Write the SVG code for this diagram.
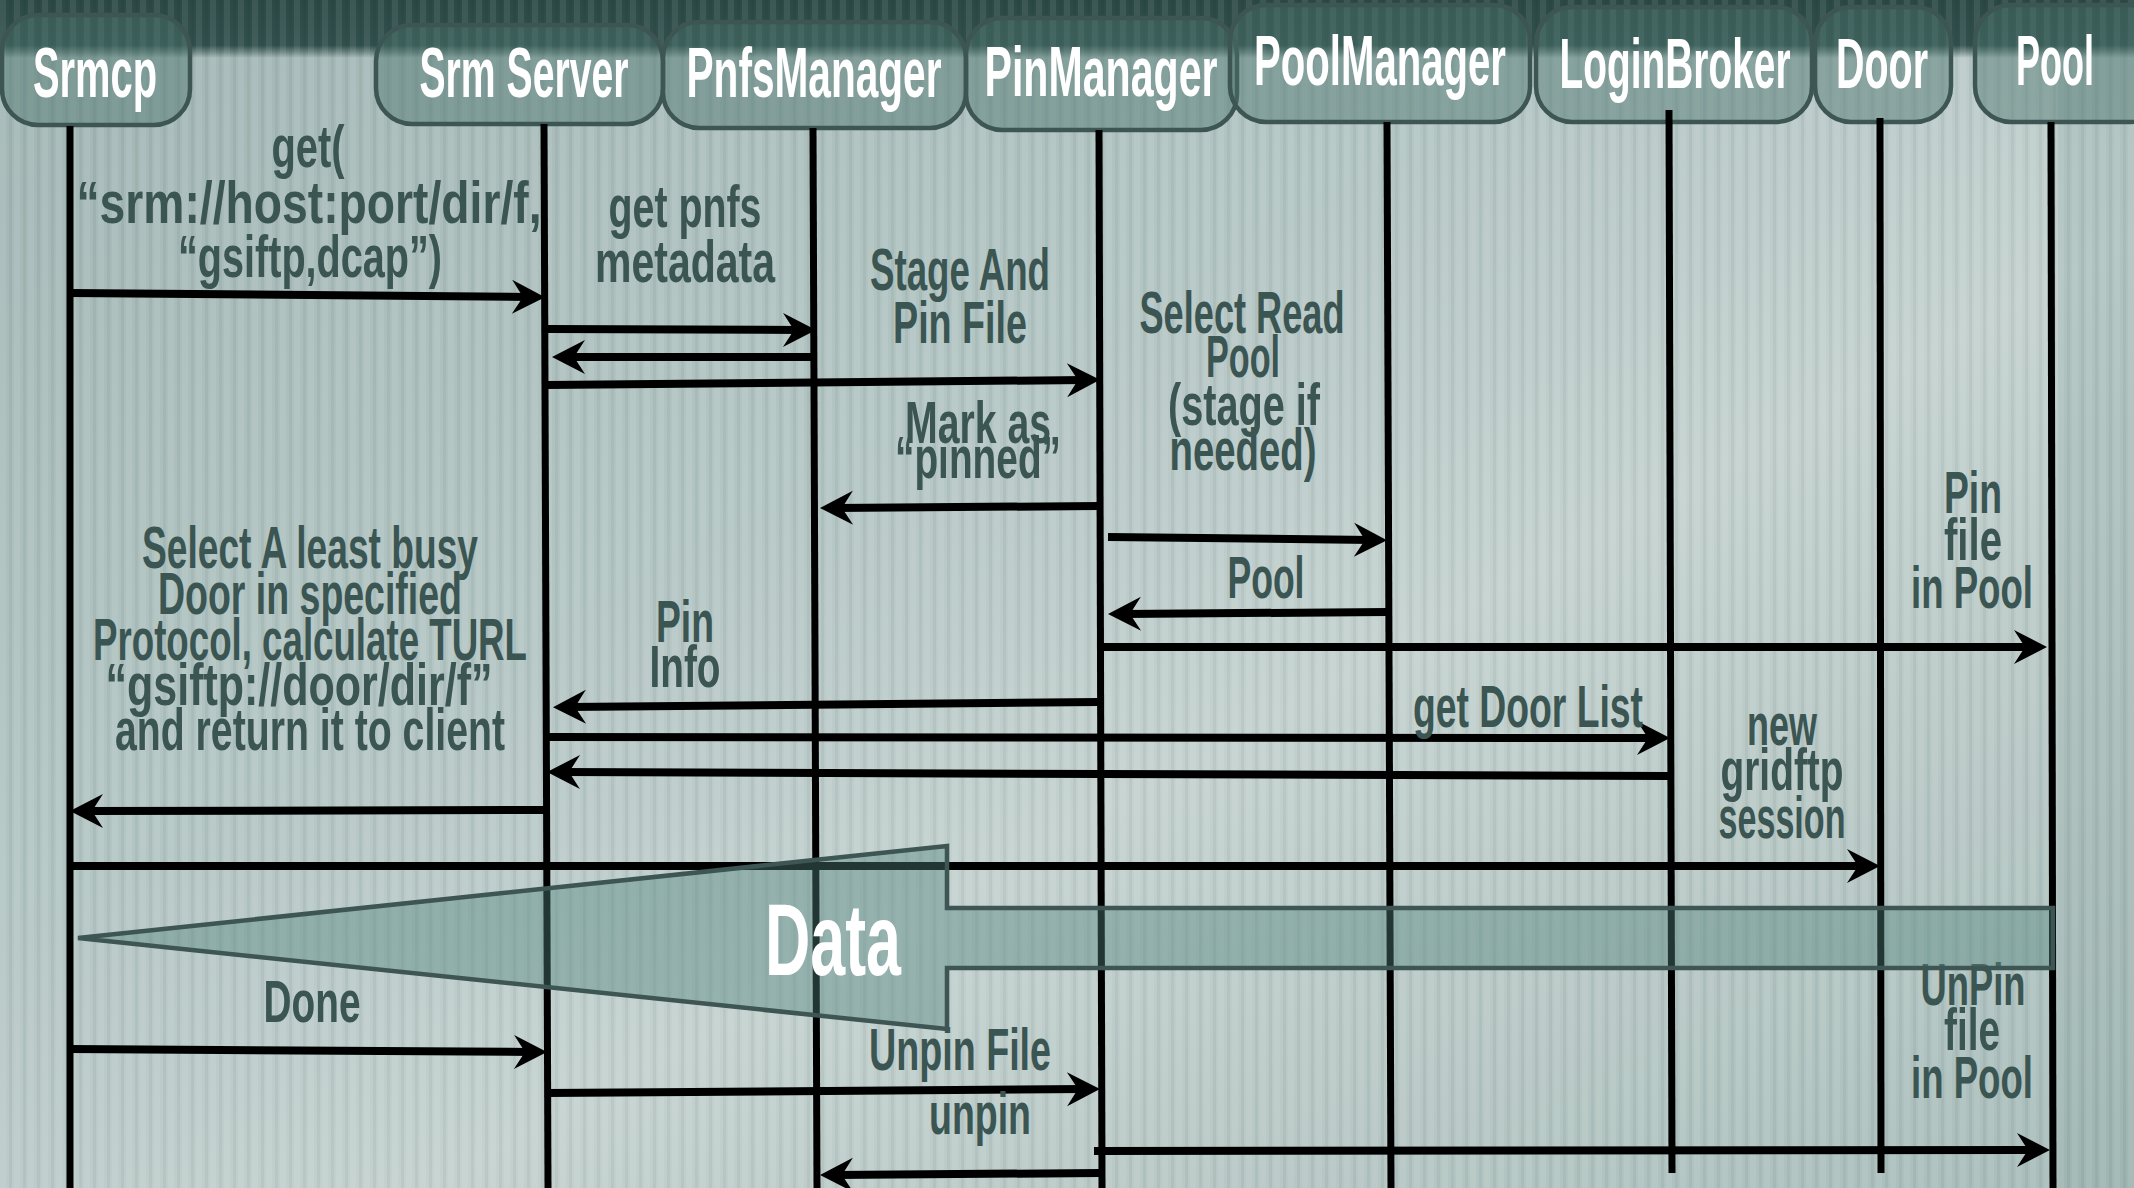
<svg xmlns="http://www.w3.org/2000/svg" width="2134" height="1188" viewBox="0 0 2134 1188">
  <style>
    .lbl{font-family:"Liberation Sans",Arial,sans-serif;font-weight:bold;font-size:60px;fill:#3b5552;text-anchor:middle}
    .nlbl{font-family:"Liberation Sans",Arial,sans-serif;font-weight:bold;font-size:70px;fill:#ffffff;text-anchor:middle}
    .big{font-family:"Liberation Sans",Arial,sans-serif;font-weight:bold;font-size:102px;fill:#ffffff;text-anchor:middle}
    .box{fill:#4b736d;fill-opacity:0.45;stroke:#3d5553;stroke-width:4.5}
    .life{stroke:#000;stroke-width:7;fill:none}
    .msg{stroke:#000;stroke-width:8;fill:none;marker-end:url(#ah)}
  </style>
  <defs>
    <linearGradient id="bg" x1="0" y1="0" x2="1" y2="1">
      <stop offset="0" stop-color="#a0b5b3"/>
      <stop offset="0.4" stop-color="#b4c6c4"/>
      <stop offset="0.6" stop-color="#c3d1cf"/>
      <stop offset="0.8" stop-color="#b6c7c4"/>
      <stop offset="1" stop-color="#a7bcb9"/>
    </linearGradient>
    <linearGradient id="hdr" x1="0" y1="0" x2="0" y2="1">
      <stop offset="0" stop-color="#2c4946"/>
      <stop offset="0.78" stop-color="#31504d"/>
      <stop offset="0.9" stop-color="#31504d" stop-opacity="0.5"/>
      <stop offset="1" stop-color="#31504d" stop-opacity="0"/>
    </linearGradient>
    <pattern id="stripes" width="14" height="20" patternUnits="userSpaceOnUse">
      <rect x="0" y="0" width="6" height="20" fill="#ffffff" fill-opacity="0.08"/>
      <rect x="9" y="0" width="3" height="20" fill="#000000" fill-opacity="0.045"/>
    </pattern>
    <marker id="ah" markerUnits="userSpaceOnUse" viewBox="-20 -18 36 36" markerWidth="36" markerHeight="36" refX="0" refY="0" orient="auto">
      <path d="M15,0 L-18,-17 L-7,0 L-18,17 Z" fill="#000"/>
    </marker>
  </defs>

  <!-- backdrop: tinted panel, dark title band, vertical ribbing -->
  <rect width="2134" height="1188" fill="url(#bg)"/>
  <rect x="2058" width="76" height="1188" fill="#8fa9a5" fill-opacity="0.35"/>
  <rect width="2134" height="58" fill="url(#hdr)"/>
  <rect width="2134" height="1188" fill="url(#stripes)"/>

  <!-- participants -->
  <g id="srmcp">
    <rect class="box" x="2" y="15" width="188" height="110" rx="36"/>
    <text class="nlbl" x="95" y="97" textLength="124" lengthAdjust="spacingAndGlyphs">Srmcp</text>
  </g>
  <g id="srm-server">
    <rect class="box" x="376" y="25" width="287" height="99" rx="36"/>
    <text class="nlbl" x="524" y="97" textLength="209" lengthAdjust="spacingAndGlyphs">Srm Server</text>
  </g>
  <g id="pnfs-manager">
    <rect class="box" x="663" y="22" width="303" height="106" rx="36"/>
    <text class="nlbl" x="814" y="97" textLength="255" lengthAdjust="spacingAndGlyphs">PnfsManager</text>
  </g>
  <g id="pin-manager">
    <rect class="box" x="966" y="18" width="271" height="112" rx="36"/>
    <text class="nlbl" x="1101" y="96" textLength="233" lengthAdjust="spacingAndGlyphs">PinManager</text>
  </g>
  <g id="pool-manager">
    <rect class="box" x="1230" y="5" width="300" height="117" rx="36"/>
    <text class="nlbl" x="1380" y="85" textLength="252" lengthAdjust="spacingAndGlyphs">PoolManager</text>
  </g>
  <g id="login-broker">
    <rect class="box" x="1536" y="7" width="276" height="115" rx="36"/>
    <text class="nlbl" x="1675" y="88" textLength="231" lengthAdjust="spacingAndGlyphs">LoginBroker</text>
  </g>
  <g id="door">
    <rect class="box" x="1815" y="7" width="136" height="115" rx="36"/>
    <text class="nlbl" x="1882" y="88" textLength="92" lengthAdjust="spacingAndGlyphs">Door</text>
  </g>
  <g id="pool">
    <rect class="box" x="1975" y="5" width="190" height="117" rx="36"/>
    <text class="nlbl" x="2055" y="85" textLength="78" lengthAdjust="spacingAndGlyphs">Pool</text>
  </g>

  <!-- lifelines and messages -->
  <g id="connectors">
    <path class="life" d="M70,126 L70,1188"/>
    <path class="life" d="M544,124 L548,1188"/>
    <path class="life" d="M813,128 L817,1188"/>
    <path class="life" d="M1099,130 L1102,1188"/>
    <path class="life" d="M1387,122 L1391,1188"/>
    <path class="life" d="M1669,110 L1672,1173"/>
    <path class="life" d="M1880,118 L1881,1173"/>
    <path class="life" d="M2051,122 L2053,1188"/>

    <path class="msg" d="M70,293 L530,297"/>
    <path class="msg" d="M547,329 L801,330"/>
    <path class="msg" d="M814,357 L567,357"/>
    <path class="msg" d="M547,385 L1085,380"/>
    <path class="msg" d="M1099,506 L835,508"/>
    <path class="msg" d="M1108,537 L1372,540"/>
    <path class="msg" d="M1387,612 L1123,614"/>
    <path class="msg" d="M1100,647 L2032,647"/>
    <path class="msg" d="M1099,702 L568,707"/>
    <path class="msg" d="M547,737 L1655,738"/>
    <path class="msg" d="M1669,776 L562,772"/>
    <path class="msg" d="M547,810 L85,811"/>
    <path class="msg" d="M70,866 L1865,866"/>
    <path class="msg" d="M70,1049 L532,1052"/>
    <path class="msg" d="M547,1093 L1085,1089"/>
    <path class="msg" d="M1094,1151 L2035,1150"/>
    <path class="msg" d="M1100,1173 L835,1175"/>
  </g>

  <!-- message labels -->
  <g id="labels">
    <text class="lbl" x="308" y="167" textLength="73" lengthAdjust="spacingAndGlyphs">get(</text>
    <text class="lbl" x="309" y="223" textLength="465" lengthAdjust="spacingAndGlyphs">“srm://host:port/dir/f,</text>
    <text class="lbl" x="310" y="277" textLength="264" lengthAdjust="spacingAndGlyphs">“gsiftp,dcap”)</text>

    <text class="lbl" x="685" y="227" textLength="153" lengthAdjust="spacingAndGlyphs">get pnfs</text>
    <text class="lbl" x="685" y="282" textLength="180" lengthAdjust="spacingAndGlyphs">metadata</text>

    <text class="lbl" x="960" y="290" textLength="180" lengthAdjust="spacingAndGlyphs">Stage And</text>
    <text class="lbl" x="960" y="343" textLength="134" lengthAdjust="spacingAndGlyphs">Pin File</text>

    <text class="lbl" x="1242" y="333" textLength="205" lengthAdjust="spacingAndGlyphs">Select Read</text>
    <text class="lbl" x="1243" y="377" textLength="74" lengthAdjust="spacingAndGlyphs">Pool</text>
    <text class="lbl" x="1244" y="425" textLength="152" lengthAdjust="spacingAndGlyphs">(stage if</text>
    <text class="lbl" x="1243" y="470" textLength="147" lengthAdjust="spacingAndGlyphs">needed)</text>

    <text class="lbl" x="978" y="443" textLength="146" lengthAdjust="spacingAndGlyphs">Mark as</text>
    <text class="lbl" x="978" y="478" textLength="166" lengthAdjust="spacingAndGlyphs">“pinned”</text>

    <text class="lbl" x="1266" y="598" textLength="77" lengthAdjust="spacingAndGlyphs">Pool</text>

    <text class="lbl" x="1973" y="513" textLength="58" lengthAdjust="spacingAndGlyphs">Pin</text>
    <text class="lbl" x="1973" y="560" textLength="58" lengthAdjust="spacingAndGlyphs">file</text>
    <text class="lbl" x="1972" y="608" textLength="122" lengthAdjust="spacingAndGlyphs">in Pool</text>

    <text class="lbl" x="685" y="642" textLength="58" lengthAdjust="spacingAndGlyphs">Pin</text>
    <text class="lbl" x="685" y="687" textLength="71" lengthAdjust="spacingAndGlyphs">Info</text>

    <text class="lbl" x="310" y="568" textLength="336" lengthAdjust="spacingAndGlyphs">Select A least busy</text>
    <text class="lbl" x="310" y="614" textLength="304" lengthAdjust="spacingAndGlyphs">Door in specified</text>
    <text class="lbl" x="310" y="660" textLength="434" lengthAdjust="spacingAndGlyphs">Protocol, calculate TURL</text>
    <text class="lbl" x="299" y="705" textLength="387" lengthAdjust="spacingAndGlyphs">“gsiftp://door/dir/f”</text>
    <text class="lbl" x="310" y="750" textLength="390" lengthAdjust="spacingAndGlyphs">and return it to client</text>

    <text class="lbl" x="1528" y="727" textLength="230" lengthAdjust="spacingAndGlyphs">get Door List</text>

    <text class="lbl" x="1782" y="745" textLength="70" lengthAdjust="spacingAndGlyphs">new</text>
    <text class="lbl" x="1782" y="790" textLength="123" lengthAdjust="spacingAndGlyphs">gridftp</text>
    <text class="lbl" x="1782" y="838" textLength="127" lengthAdjust="spacingAndGlyphs">session</text>

    <text class="lbl" x="312" y="1022" textLength="97" lengthAdjust="spacingAndGlyphs">Done</text>
    <text class="lbl" x="960" y="1070" textLength="182" lengthAdjust="spacingAndGlyphs">Unpin File</text>
    <text class="lbl" x="980" y="1134" textLength="102" lengthAdjust="spacingAndGlyphs">unpin</text>

    <text class="lbl" x="1973" y="1005" textLength="105" lengthAdjust="spacingAndGlyphs">UnPin</text>
    <text class="lbl" x="1972" y="1050" textLength="56" lengthAdjust="spacingAndGlyphs">file</text>
    <text class="lbl" x="1972" y="1098" textLength="122" lengthAdjust="spacingAndGlyphs">in Pool</text>
  </g>

  <!-- data transfer arrow from Pool back to Srmcp -->
  <g id="data">
    <path d="M78,938 L947,846 L947,908 L2053,908 L2053,968 L947,968 L947,1029 Z" fill="#52837b" fill-opacity="0.42" stroke="#3d5553" stroke-width="4.5" stroke-linejoin="miter"/>
    <text class="big" x="833" y="975" textLength="136" lengthAdjust="spacingAndGlyphs">Data</text>
  </g>
</svg>
